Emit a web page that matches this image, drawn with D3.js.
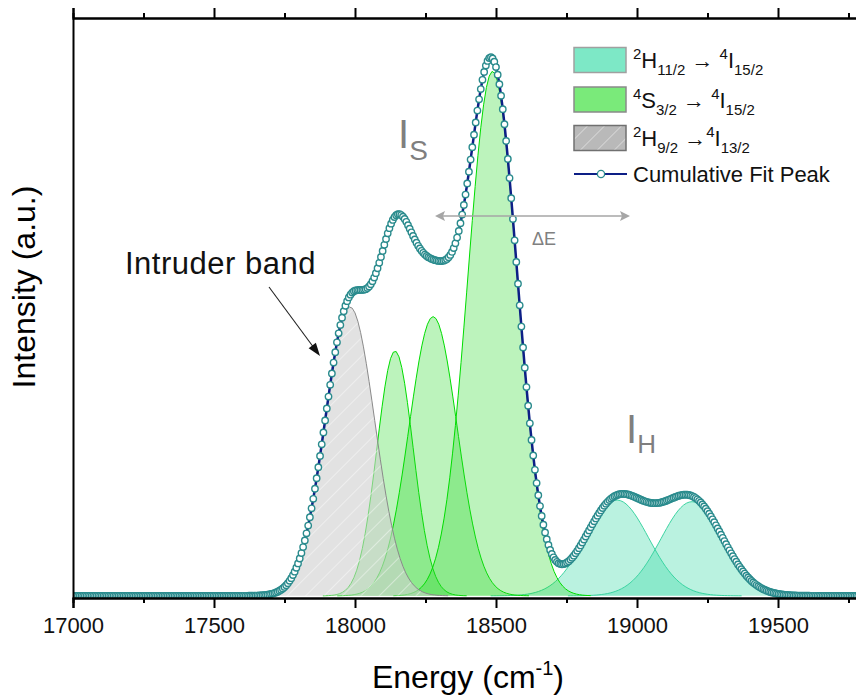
<!DOCTYPE html>
<html><head><meta charset="utf-8">
<script src="https://cdn.jsdelivr.net/npm/d3@7"></script>
<style>body{margin:0;background:#fff}svg{display:block}text{font-family:"Liberation Sans",Arial,sans-serif}</style>
</head><body>
<svg id="chart" width="856" height="700"></svg>
<script>
// ---- data ----
const xMajorTicks = [17000, 17500, 18000, 18500, 19000, 19500];
const xMinorTicks = [17250, 17750, 18250, 18750, 19250, 19750];
// 2H9/2 -> 4I13/2 (intruder band) fit peak: centre, height, gaussian width
const grayCenters = [17982];
const grayHeights = [0.537];
const grayWidths  = [88];
// 4S3/2 -> 4I15/2 fit peaks
const greenCenters = [18142, 18277, 18488];
const greenHeights = [0.455, 0.519, 0.975];
const greenWidths  = [64, 85, 88];
// 2H11/2 -> 4I15/2 fit peaks
const hCenters = [18929, 19195];
const hHeights = [0.178, 0.175];
const hWidths  = [112, 110];
const dataStep = 6; // spacing of cumulative points (cm-1)
const legendLabels = [
  [["sup","2"],["n","H"],["sub","11/2"],["n"," \u2192 "],["sup","4"],["n","I"],["sub","15/2"]],
  [["sup","4"],["n","S"],["sub","3/2"],["n"," \u2192 "],["sup","4"],["n","I"],["sub","15/2"]],
  [["sup","2"],["n","H"],["sub","9/2"],["n"," \u2192"],["sup","4"],["n","I"],["sub","13/2"]],
  [["n","Cumulative Fit Peak"]]
];

// ---- layout ----
const svg = d3.select("#chart");
const x = d3.scaleLinear().domain([17000, 19800]).range([73, 862.6]);
const y = d3.scaleLinear().domain([-0.004, 1.074]).range([598, 18]);

const defs = svg.append("defs");
defs.append("clipPath").attr("id","clip").append("rect")
  .attr("x",73).attr("y",18).attr("width",790).attr("height",580);
const pat = defs.append("pattern").attr("id","hatch").attr("patternUnits","userSpaceOnUse")
  .attr("width",13).attr("height",13).attr("patternTransform","rotate(45)");
pat.append("rect").attr("width",13).attr("height",13).attr("fill","#cfcfcf").attr("fill-opacity",0.6);
pat.append("line").attr("x1",0).attr("y1",0).attr("x2",0).attr("y2",13)
  .attr("stroke","#ffffff").attr("stroke-width",1).attr("stroke-opacity",0.85);
const pat2 = defs.append("pattern").attr("id","hatchLeg").attr("patternUnits","userSpaceOnUse")
  .attr("width",12).attr("height",12).attr("patternTransform","rotate(45)");
pat2.append("rect").attr("width",12).attr("height",12).attr("fill","#b9b9b9");
pat2.append("line").attr("x1",0).attr("y1",0).attr("x2",0).attr("y2",12)
  .attr("stroke","#ffffff").attr("stroke-width",1).attr("stroke-opacity",0.8);

const gauss = (e, c, h, w) => h * Math.exp(-((e - c) * (e - c)) / (2 * w * w));
function peakPoints(c, h, w) {
  return d3.range(c - 4 * w, c + 4 * w + 0.1, 10).map(e => [e, gauss(e, c, h, w)]);
}
const area = d3.area().x(d => x(d[0])).y0(y(0)).y1(d => y(d[1]));
const line = d3.line().x(d => x(d[0])).y(d => y(d[1]));

const plot = svg.append("g").attr("clip-path","url(#clip)");

// 2H11/2 peaks
hCenters.forEach((c, i) => {
  const pts = peakPoints(c, hHeights[i], hWidths[i]);
  plot.append("path").attr("d", area(pts)).attr("fill","#2fd9a0").attr("fill-opacity",0.33);
  plot.append("path").attr("d", line(pts)).attr("fill","none").attr("stroke","#3dd4a2").attr("stroke-width",1);
});
// 4S3/2 peaks
greenCenters.forEach((c, i) => {
  const pts = peakPoints(c, greenHeights[i], greenWidths[i]);
  plot.append("path").attr("d", area(pts)).attr("fill","#22d822").attr("fill-opacity",0.3);
  plot.append("path").attr("d", line(pts)).attr("fill","none").attr("stroke","#00dd00").attr("stroke-width",1);
});
// 2H9/2 peak
grayCenters.forEach((c, i) => {
  const pts = peakPoints(c, grayHeights[i], grayWidths[i]);
  plot.append("path").attr("d", area(pts)).attr("fill","url(#hatch)");
  plot.append("path").attr("d", line(pts)).attr("fill","none").attr("stroke","#8a8a8a").attr("stroke-width",1);
});

// cumulative fit
const allC = grayCenters.concat(greenCenters, hCenters);
const allH = grayHeights.concat(greenHeights, hHeights);
const allW = grayWidths.concat(greenWidths, hWidths);
const energies = d3.range(17000, 19800 + 0.1, dataStep);
const cum = energies.map(e => [e, d3.sum(allC, (c, i) => gauss(e, c, allH[i], allW[i]))]);
plot.append("path").attr("d", line(cum)).attr("fill","none").attr("stroke","#0d1f86").attr("stroke-width",2.5);
plot.append("g").selectAll("circle").data(cum).join("circle")
  .attr("cx", d => x(d[0])).attr("cy", d => y(d[1])).attr("r",3.2)
  .attr("fill","#ffffff").attr("stroke","#2a8b8d").attr("stroke-width",1.4);

// axes
const xb = svg.append("g").attr("transform","translate(0,598)");
xb.call(d3.axisBottom(x).tickValues(xMajorTicks).tickSize(10).tickPadding(9).tickFormat(d3.format("d")));
const xbm = svg.append("g").attr("transform","translate(0,598)");
xbm.call(d3.axisBottom(x).tickValues(xMinorTicks).tickSize(5).tickFormat(""));
const xt = svg.append("g").attr("transform","translate(0,18)");
xt.call(d3.axisTop(x).tickValues(xMajorTicks).tickSize(10).tickFormat(""));
const xtm = svg.append("g").attr("transform","translate(0,18)");
xtm.call(d3.axisTop(x).tickValues(xMinorTicks).tickSize(5).tickFormat(""));
svg.append("g").attr("transform","translate(73,0)")
  .call(d3.axisLeft(y).tickValues([]).tickSize(0));
[xb, xbm, xt, xtm].forEach(g => {
  g.select(".domain").attr("stroke","#000").attr("stroke-width",2);
  g.selectAll(".tick line").attr("stroke","#000").attr("stroke-width",2);
});
svg.selectAll(".domain").attr("stroke","#000").attr("stroke-width",2);
xb.selectAll(".tick text").attr("font-size",22).attr("fill","#111")
  .style("font-family","'Liberation Sans',Arial,sans-serif");

// axis titles
const xl = svg.append("text").attr("x",468).attr("y",688).attr("text-anchor","middle")
  .attr("font-size",32).attr("fill","#000");
xl.append("tspan").text("Energy (cm");
xl.append("tspan").attr("font-size",20).attr("dy",-13).text("-1");
xl.append("tspan").attr("dy",13).text(")");
svg.append("text").attr("transform","translate(35,287) rotate(-90)").attr("text-anchor","middle")
  .attr("font-size",32).attr("fill","#000").text("Intensity (a.u.)");

// annotations
const is = svg.append("text").attr("x",398).attr("y",148).attr("fill","#7f7f7f").attr("font-size",40);
is.append("tspan").text("I");
is.append("tspan").attr("font-size",28).attr("dy",12).text("S");
const ih = svg.append("text").attr("x",626).attr("y",443).attr("fill","#7f7f7f").attr("font-size",40);
ih.append("tspan").text("I");
ih.append("tspan").attr("font-size",26).attr("dy",10).text("H");

svg.append("text").attr("x",532).attr("y",245).attr("fill","#808080").attr("font-size",18).text("\u0394E");
// double arrow
const ax1 = 435, ax2 = 630, ay = 216;
svg.append("line").attr("x1",ax1+6).attr("x2",ax2-6).attr("y1",ay).attr("y2",ay)
  .attr("stroke","#a6a6a6").attr("stroke-width",1.6);
svg.append("path").attr("d",`M${ax1},${ay} l10,-5 l-2,5 l2,5 z`).attr("fill","#a6a6a6");
svg.append("path").attr("d",`M${ax2},${ay} l-10,-5 l2,5 l-2,5 z`).attr("fill","#a6a6a6");

svg.append("text").attr("x",125).attr("y",274).attr("font-size",31).attr("letter-spacing",0.5)
  .attr("fill","#111").text("Intruder band");
// intruder arrow
const p0 = [269, 287], p1 = [320, 356];
const ang = Math.atan2(p1[1]-p0[1], p1[0]-p0[0]);
svg.append("line").attr("x1",p0[0]).attr("y1",p0[1])
  .attr("x2",p1[0]-10*Math.cos(ang)).attr("y2",p1[1]-10*Math.sin(ang))
  .attr("stroke","#222").attr("stroke-width",1.1);
svg.append("path").attr("transform",`translate(${p1[0]},${p1[1]}) rotate(${ang*180/Math.PI})`)
  .attr("d","M0,0 L-13,-4.5 L-13,4.5 Z").attr("fill","#111");

// legend
const legY = [60, 99.5, 138, 174];
const leg = svg.append("g");
const swFill = ["#7de8c6", "#7aea7a", "url(#hatchLeg)"];
const swStroke = ["#a0a0a0", "#8a8a8a", "#707070"];
swFill.forEach((f, i) => {
  leg.append("rect").attr("x",574).attr("y",legY[i]-12.5).attr("width",52).attr("height",25)
    .attr("fill",f).attr("stroke",swStroke[i]).attr("stroke-width",1.5);
});
leg.append("line").attr("x1",574).attr("x2",627).attr("y1",legY[3]).attr("y2",legY[3])
  .attr("stroke","#0d1f86").attr("stroke-width",2.2);
leg.append("circle").attr("cx",601).attr("cy",legY[3]).attr("r",3.6)
  .attr("fill","#fff").attr("stroke","#2a8b8d").attr("stroke-width",1.3);
legendLabels.forEach((segs, i) => {
  const t = leg.append("text").attr("x",633).attr("y",legY[i]+8).attr("font-size",22).attr("fill","#111");
  let off = 0;
  segs.forEach(([kind, s]) => {
    const target = kind === "sup" ? -9 : kind === "sub" ? 7 : 0;
    t.append("tspan").attr("font-size", kind === "n" ? 22 : 15).attr("dy", target - off).text(s);
    off = target;
  });
});
</script>
</body></html>
